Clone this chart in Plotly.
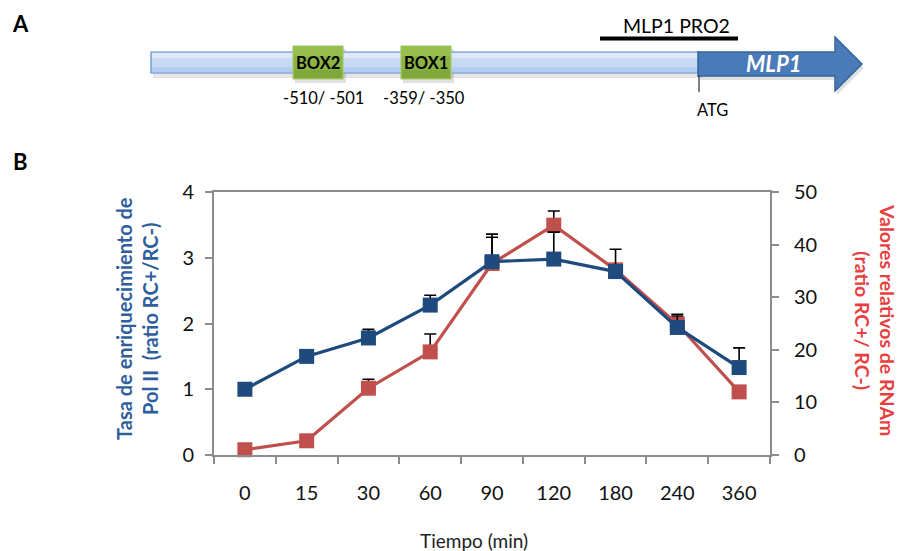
import plotly.graph_objects as go

W, H = 903, 551
OFF = 8  # page body margin offset
FW, FH = W - OFF, H - OFF

# ---------------- data ----------------
times = ["0", "15", "30", "60", "90", "120", "180", "240", "360"]
pol2 = [1.0, 1.5, 1.78, 2.28, 2.94, 2.98, 2.79, 1.94, 1.33]
pol2_err = [0, 0, 0.13, 0.15, 0.42, 0.41, 0.34, 0.20, 0.30]
rna = [1.0, 2.7, 12.7, 19.6, 36.4, 43.7, 35.2, 24.9, 12.0]
rna_err = [0, 0, 1.7, 3.4, 5.0, 2.7, 0, 1.5, 0]

BLUE = "#1F4A7E"
RED = "#C0504D"
FONT = "Lato"
AX = "#8C8C8C"


def px(x):
    return (x - OFF) / FW


def py(y):
    return 1 - (y - OFF) / FH


fig = go.Figure()

zeros = [0] * len(times)
# red (RNA) on primary y (right side), drawn first (underneath)
fig.add_trace(go.Scatter(x=times, y=rna, mode="markers", yaxis="y",
                         marker=dict(opacity=0), showlegend=False, hoverinfo="skip",
                         error_y=dict(type="data", symmetric=False, array=rna_err,
                                      arrayminus=zeros, color="black", thickness=1.6, width=6)))
fig.add_trace(go.Scatter(x=times, y=rna, mode="lines+markers", yaxis="y", cliponaxis=False,
                         line=dict(color=RED, width=3.2),
                         marker=dict(symbol="square", size=15, color=RED),
                         showlegend=False))
# blue (Pol II) on overlay axis (left side), drawn on top
fig.add_trace(go.Scatter(x=times, y=pol2, mode="markers", yaxis="y2",
                         marker=dict(opacity=0), showlegend=False, hoverinfo="skip",
                         error_y=dict(type="data", symmetric=False, array=pol2_err,
                                      arrayminus=zeros, color="black", thickness=1.6, width=6)))
fig.add_trace(go.Scatter(x=times, y=pol2, mode="lines+markers", yaxis="y2", cliponaxis=False,
                         line=dict(color=BLUE, width=3.2),
                         marker=dict(symbol="square", size=15, color=BLUE),
                         showlegend=False))

x0, x1 = 214, 770
ytop, ybot = 192, 455
tickfont = dict(family=FONT, size=20, color="#111111")

fig.update_layout(
    width=FW, height=FH,
    margin=dict(l=0, r=0, t=0, b=0, pad=0, autoexpand=False),
    paper_bgcolor="white", plot_bgcolor="white",
    showlegend=False,
    xaxis=dict(domain=[px(x0), px(x1)], type="category", categoryorder="array",
               categoryarray=times, range=[-0.5, 8.5], tickson="boundaries",
               ticks="outside", ticklen=7, tickwidth=2, tickcolor=AX,
               showline=True, linecolor=AX, linewidth=2, mirror=True,
               showgrid=False, zeroline=False, tickfont=tickfont,
               ticklabelstandoff=19, automargin=False, fixedrange=True),
    yaxis=dict(domain=[py(ybot), py(ytop)], side="right", anchor="x", range=[0, 50],
               dtick=10, ticks="outside", ticklen=7, tickwidth=2, tickcolor=AX,
               showline=True, linecolor=AX, linewidth=2, showgrid=False,
               zeroline=False, tickfont=tickfont, ticklabelstandoff=11, automargin=False),
    yaxis2=dict(overlaying="y", side="left", anchor="x", range=[0, 4], dtick=1,
                ticks="outside", ticklen=7, tickwidth=2, tickcolor=AX,
                showline=True, linecolor=AX, linewidth=2, showgrid=False,
                zeroline=False, tickfont=tickfont, ticklabelstandoff=7, automargin=False),
)

ann = []


def text(x, y, s, size, color="black", bold=False, italic=False, angle=0, xanchor="center"):
    if bold:
        s = "<b>" + s + "</b>"
    if italic:
        s = "<i>" + s + "</i>"
    ann.append(dict(x=px(x), y=py(y), xref="paper", yref="paper", text=s, showarrow=False,
                    xanchor=xanchor, yanchor="middle", textangle=angle,
                    font=dict(family=FONT, size=size, color=color)))


# axis titles
text(137, 319, "Tasa de enriquecimiento de<br>Pol II  (ratio RC+/RC-)", 20,
     color="#2E5E9C", bold=True, angle=-90)
text(875, 320, "Valores relativos de RNAm<br>(ratio RC+/ RC-)", 19.5,
     color="#E8403F", bold=True, angle=90)
text(474, 540, "Tiempo (min)", 19, color="#222222")

# panel labels
text(20, 23, "A", 22, bold=True)
text(20, 161, "B", 22, bold=True)

shapes = []
NOLINE = "rgba(0,0,0,0)"


def rect(xa, ya, xb, yb, fill, line, lw=1):
    shapes.append(dict(type="rect", xref="paper", yref="paper",
                       x0=px(xa), x1=px(xb), y0=py(yb), y1=py(ya),
                       fillcolor=fill, line=dict(color=line, width=lw)))


def seg(xa, ya, xb, yb, color, lw):
    shapes.append(dict(type="line", xref="paper", yref="paper",
                       x0=px(xa), x1=px(xb), y0=py(ya), y1=py(yb),
                       line=dict(color=color, width=lw)))


def arrow_path(dx=0, dy=0):
    return "M {a},{b} L {c},{b} L {c},{d} L {e},{f} L {c},{g} L {c},{h} L {a},{h} Z".format(
        a=px(698 + dx), b=py(52 + dy), c=px(835 + dx), d=py(37 + dy),
        e=px(862 + dx), f=py(64 + dy), g=py(91 + dy), h=py(76 + dy))


# soft drop shadows
rect(153, 56, 703, 78, "rgba(0,0,0,0.10)", NOLINE, 0)
rect(295, 49, 346, 83, "rgba(0,0,0,0.12)", NOLINE, 0)
rect(403, 49, 454, 83, "rgba(0,0,0,0.12)", NOLINE, 0)
shapes.append(dict(type="path", xref="paper", yref="paper", path=arrow_path(2, 4),
                   fillcolor="rgba(0,0,0,0.12)", line=dict(color=NOLINE, width=0)))

# light blue promoter bar (simple gradient via stripes)
rect(151, 52, 699, 73, "#C6DAF3", "#5E8DCA", 1.2)
rect(152, 53, 698, 58, "#DDE9F9", NOLINE, 0)
rect(152, 67, 698, 72, "#B3CDEE", NOLINE, 0)

# arrow MLP1
shapes.append(dict(type="path", xref="paper", yref="paper", path=arrow_path(),
                   fillcolor="#4A7BB8", line=dict(color="#36649C", width=1.5)))

# green boxes
rect(293, 46, 343, 79, "#8CB444", "#A6CA67", 1.2)
rect(294, 47, 342, 56, "#98BE50", NOLINE, 0)
rect(294, 70, 342, 78, "#7FA739", NOLINE, 0)
rect(401, 46, 451, 79, "#8CB444", "#A6CA67", 1.2)
rect(402, 47, 450, 56, "#98BE50", NOLINE, 0)
rect(402, 70, 450, 78, "#7FA739", NOLINE, 0)

# ATG tick and PRO2 line
seg(699, 76, 699, 92, "black", 1)
seg(600, 38.5, 738, 38.5, "black", 4)

fig.update_layout(shapes=shapes)

text(318, 63, "BOX2", 16.5, bold=True)
text(426, 63, "BOX1", 16.5, bold=True)
text(323, 98, "-510/ -501", 16.5)
text(424, 98, "-359/ -350", 16.5)
text(712, 110, "ATG", 16.5)
text(676, 25, "MLP1 PRO2", 19.5)
text(774, 64, "MLP1", 22, color="white", bold=True, italic=True)

fig.update_layout(annotations=ann)

fig.write_html("out.html")
